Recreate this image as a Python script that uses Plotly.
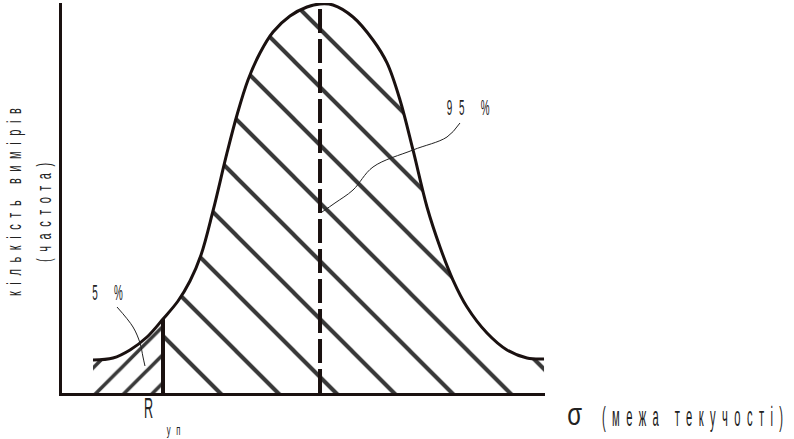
import json
import plotly.graph_objects as go

# Frequency distribution curve (schematic units: sigma 0..100, frequency 0..100)
curve_x = [6.42, 10.56, 14.08, 17.60, 20.91, 24.02, 26.50, 28.78, 31.26, 34.16, 36.23,
           38.51, 40.99, 43.69, 47.20, 50.72, 53.42, 56.11, 60.25, 64.39, 67.29, 69.98,
           72.67, 75.57, 78.26, 80.95, 83.85, 87.99, 92.13, 96.27, 99.8]
curve_y = [8.46, 8.97, 11.03, 14.36, 18.97, 23.59, 28.72, 35.38, 46.67, 61.54, 71.28,
           80.26, 87.18, 92.56, 96.67, 98.97, 99.74, 99.49, 96.41, 90.51, 84.62, 75.13,
           62.31, 47.69, 37.44, 28.97, 22.05, 15.38, 11.03, 8.97, 8.72]

r_up = 20.91          # R_уп position
r_up_height = 18.97
mean_x = 53.42        # mean value (dashed line)

leader5_x = [11.39, 14.70, 16.15, 16.77, 17.18]
leader5_y = [22.05, 16.92, 12.82, 9.23, 6.92]
leader95_x = [82.40, 79.71, 72.67, 64.39, 60.25, 56.52, 53.83]
leader95_y = [69.23, 65.64, 62.31, 57.95, 52.05, 48.72, 46.41]

labels = ["5 %", "95 %", "R", "уп", "σ", "(межа текучості)",
          "кількість вимірів", "(частота)"]

split = curve_x.index(r_up)
INK = "#1a1110"
FONT = "Liberation Sans, Arial, sans-serif"

fig = go.Figure()
fig.add_trace(go.Scatter(
    x=curve_x[:split + 1], y=curve_y[:split + 1], mode="lines",
    line=dict(width=0, shape="spline"), fill="tozeroy", fillcolor="rgba(0,0,0,0)",
    fillpattern=dict(shape="/", size=20, solidity=0.18, fgcolor="#222", bgcolor="white",
                     fgopacity=0.9),
    hoverinfo="skip", showlegend=False))
fig.add_trace(go.Scatter(
    x=curve_x[split:], y=curve_y[split:], mode="lines",
    line=dict(width=0, shape="spline"), fill="tozeroy", fillcolor="rgba(0,0,0,0)",
    fillpattern=dict(shape="\\", size=41, solidity=0.1, fgcolor="#222", bgcolor="white",
                     fgopacity=0.9),
    hoverinfo="skip", showlegend=False))
fig.add_trace(go.Scatter(x=curve_x, y=curve_y, mode="lines",
                         line=dict(color=INK, width=3, shape="spline", smoothing=1.0),
                         hoverinfo="skip", showlegend=False))
fig.add_trace(go.Scatter(x=[r_up, r_up], y=[0, r_up_height], mode="lines",
                         line=dict(color=INK, width=4), showlegend=False, hoverinfo="skip"))
fig.add_trace(go.Scatter(x=[mean_x, mean_x], y=[0, 100], mode="lines",
                         line=dict(color=INK, width=4, dash="24px,6px"),
                         showlegend=False, hoverinfo="skip"))
fig.add_trace(go.Scatter(x=leader5_x, y=leader5_y, mode="lines",
                         line=dict(color="#222", width=1, shape="spline"),
                         showlegend=False, hoverinfo="skip"))
fig.add_trace(go.Scatter(x=leader95_x, y=leader95_y, mode="lines",
                         line=dict(color="#222", width=1, shape="spline"),
                         showlegend=False, hoverinfo="skip"))

# approximate positions (paper), font sizes, rotation
pos = [(0.0942, 0.2564), (0.8406, 0.7308), (0.1791, -0.0385), (0.2308, -0.0975),
       (1.0621, -0.0590), (1.3054, -0.0615), (-0.0994, 0.4885), (-0.0373, 0.4628)]
sizes = [22, 22, 30, 14, 32, 28, 20, 20]
angles = [0, 0, 0, 0, 0, 0, -90, -90]
# narrow lettering: horizontal compression, letter spacing, final text-box centre (px)
scales = [0.45, 0.45, 0.42, 0.55, 0.75, 0.4, 0.55, 0.55]
spacing = [15, 15, 0, 10, 0, 16, 12, 12]
centres = [(110.9, 293), (471.4, 108), (148.5, 408), (176.3, 430.5), (575, 413.5),
           (695.7, 416.5), (13.3, 198.8), (44, 209.2)]

for t, (px, py), s, a in zip(labels, pos, sizes, angles):
    fig.add_annotation(x=px, y=py, xref="paper", yref="paper", text=t, showarrow=False,
                       textangle=a, font=dict(family=FONT, size=s, color="#222"))

fig.update_xaxes(range=[0, 100], showline=True, linewidth=3, linecolor=INK,
                 showgrid=False, zeroline=False, showticklabels=False, ticks="")
fig.update_yaxes(range=[0, 100], showline=True, linewidth=3, linecolor=INK,
                 showgrid=False, zeroline=False, showticklabels=False, ticks="")
fig.update_layout(width=794, height=439, margin=dict(l=62, r=249, t=3, b=46),
                  plot_bgcolor="white", paper_bgcolor="white")

post = """
document.body.style.margin = '0';
var gd = document.getElementById('{plot_id}');
var sc = %s, ls = %s, tg = %s;
gd.querySelectorAll('.annotation').forEach(function(g, i) {
  var t = g.querySelector('text.annotation-text');
  if (!t) return;
  t.style.letterSpacing = ls[i] + 'px';
  var b = t.getBBox();
  var c = b.x + b.width / 2;
  var tr = t.getAttribute('transform') || '';
  var inner = ' translate(' + c + ',0) scale(' + sc[i] + ',1) translate(' + (-c) + ',0)';
  t.setAttribute('transform', tr + inner);
  var r = t.getBoundingClientRect();
  var gr = gd.getBoundingClientRect();
  var dx = tg[i][0] - (r.left - gr.left + r.width / 2);
  var dy = tg[i][1] - (r.top - gr.top + r.height / 2);
  var m = t.parentNode.getScreenCTM();
  var det = m.a * m.d - m.b * m.c;
  var lx = (m.d * dx - m.c * dy) / det, ly = (-m.b * dx + m.a * dy) / det;
  t.setAttribute('transform', 'translate(' + lx + ',' + ly + ') ' + tr + inner);
});
""" % (json.dumps(scales), json.dumps(spacing), json.dumps(centres))

fig.write_html("out.html", post_script=post, config={"displayModeBar": False})
